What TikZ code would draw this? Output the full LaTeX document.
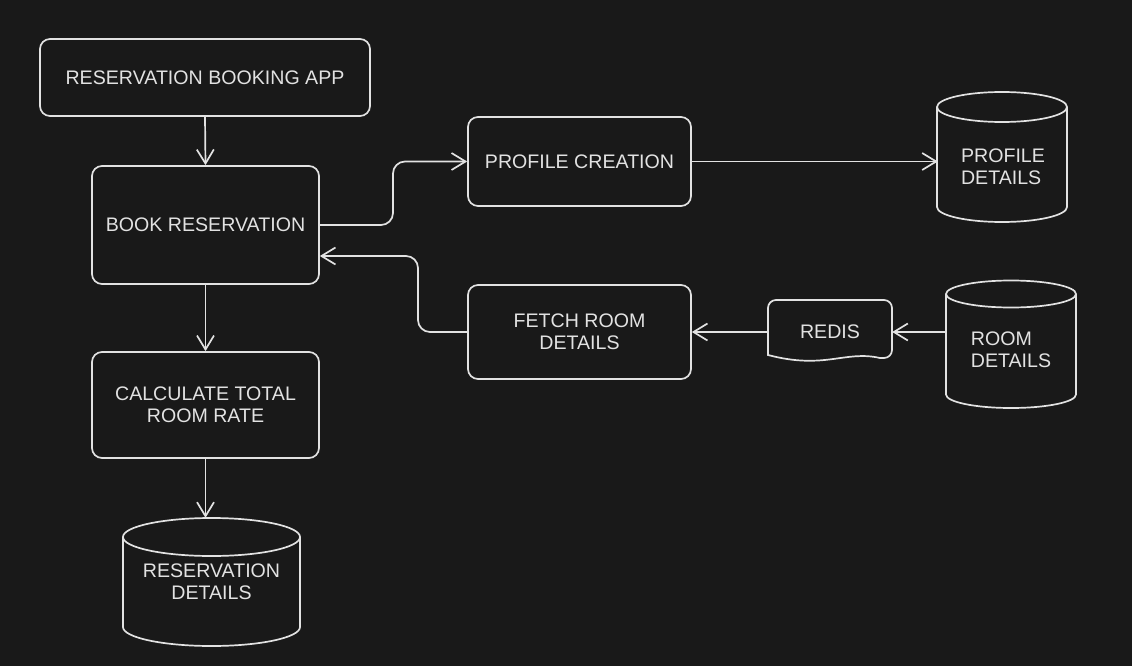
\documentclass[tikz,border=0pt]{standalone}
\usepackage{fontspec}
\setmainfont{Liberation Sans}
\usetikzlibrary{arrows.meta}
\definecolor{bg}{HTML}{191919}
\definecolor{ink}{HTML}{E2E2E2}
\begin{document}
\begin{tikzpicture}[x=1pt,y=1pt,
  every node/.style={text=ink,font=\fontsize{19.6}{22}\selectfont},
  boxnode/.style={draw=ink,line width=1.7pt,rounded corners=10pt,align=center,inner sep=0pt},
  plainnode/.style={inner sep=0pt},
  shp/.style={draw=ink,line width=1.7pt},
  arr/.style={draw=ink,line width=1.7pt,-{Straight Barb[length=14pt,width=17pt,line width=1.7pt]}}]
\fill[bg] (0,0) rectangle (1132,-666);
\useasboundingbox (0,0) rectangle (1132,-666);

% boxes
\node[boxnode,minimum width=330,minimum height=77] (app) at (205,-77.5) {RESERVATION BOOKING APP};
\node[boxnode,minimum width=227,minimum height=118] (book) at (205.5,-225) {BOOK RESERVATION};
\node[boxnode,minimum width=227,minimum height=106] (calc) at (205.5,-405) {CALCULATE TOTAL\\ROOM RATE};
\node[boxnode,minimum width=223,minimum height=89] (prof) at (579.5,-161.5) {PROFILE CREATION};
\node[boxnode,minimum width=223,minimum height=94] (fetch) at (579.5,-332) {FETCH ROOM\\DETAILS};

% REDIS document shape
\draw[shp,rounded corners=8pt] (768,-330) -- (768,-300) -- (892,-300) -- (892,-358) -- (880,-358);
\draw[shp] (880,-358) .. controls (845,-350) and (825,-370) .. (768,-355) -- (768,-330);
\node[plainnode,minimum width=124,minimum height=62] (redis) at (830,-332) {REDIS};

% cylinders
\draw[shp] (211.5,-537) ellipse (88.5 and 19);
\draw[shp] (123,-537) -- (123,-627) arc[start angle=180,end angle=360,x radius=88.5,y radius=19] -- (300,-537);
\node[plainnode,align=center,minimum width=177,minimum height=128] (rdet) at (211.5,-582) {RESERVATION\\DETAILS};

\draw[shp] (1002,-107) ellipse (65 and 15);
\draw[shp] (937,-107) -- (937,-207) arc[start angle=180,end angle=360,x radius=65,y radius=15] -- (1067,-107);
\node[plainnode,align=left,minimum width=130,minimum height=60] (pdet) at (1003,-167) {PROFILE\\DETAILS};

\draw[shp] (1011,-294) ellipse (65 and 13.5);
\draw[shp] (946,-294) -- (946,-394.5) arc[start angle=180,end angle=360,x radius=65,y radius=13.5] -- (1076,-294);
\node[plainnode,align=left,minimum width=130,minimum height=60] (rmdet) at (1011,-350) {ROOM\\DETAILS};

% connectors
\draw[arr] (app.south) -- (book.north);
\draw[arr] (book.south) -- (calc.north);
\draw[arr] (calc.south) -- (calc.south |- rdet.north);
\draw[arr,rounded corners=12pt] (book.east) -| (393,-161.5) -- (prof.west);
\draw[arr] (prof.east) -- (prof.east -| pdet.west);
\draw[arr,rounded corners=12pt] (fetch.west) -| (418,-256) -- ([yshift=-31pt]book.east);
\draw[arr] (redis.west) -- (fetch.east);
\draw[arr] (rmdet.west |- redis.east) -- (redis.east);
\end{tikzpicture}
\end{document}
